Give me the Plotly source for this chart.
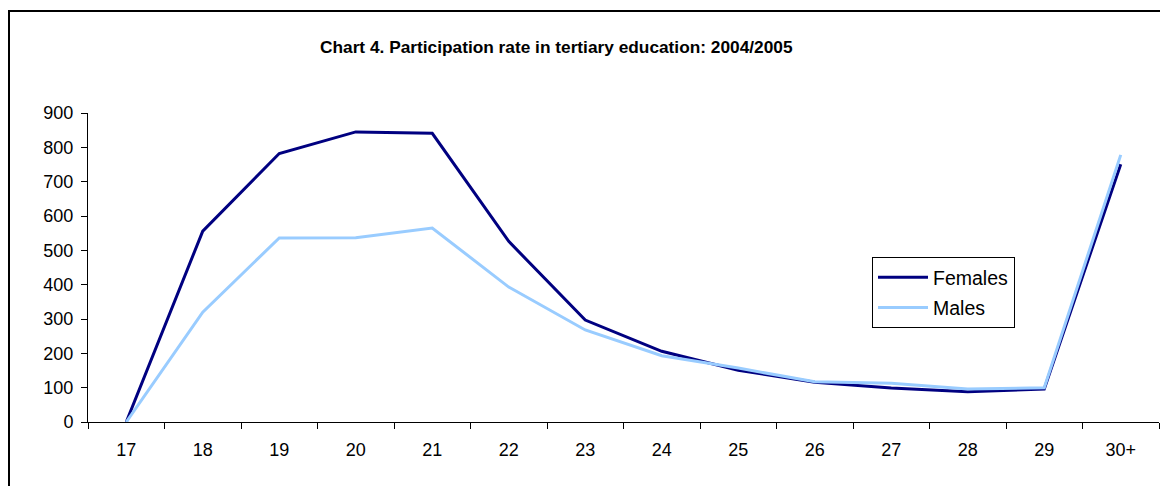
import plotly.graph_objects as go

ages = ["17", "18", "19", "20", "21", "22", "23", "24", "25", "26", "27", "28", "29", "30+"]
females = [0, 556, 782, 845, 841, 526, 297, 206, 151, 116, 99, 88, 96, 751]
males = [0, 320, 536, 537, 565, 393, 268, 193, 157, 117, 113, 96, 100, 778]

FONT = "Arial, 'Liberation Sans', sans-serif"

# page body has an 8px margin; work in screen pixels and shift
OFF = 8
W, H = 1168 - OFF, 486 - OFF
L, R, T, B = 88 - OFF, 1168 - 1159, 113 - OFF, 486 - 422
pw = W - L - R
ph = H - T - B

def px(x):
    return (x - OFF - L) / pw

def py(y):
    return (H - B - (y - OFF)) / ph

fig = go.Figure()
fig.add_trace(go.Scatter(x=ages, y=females, name="Females", mode="lines", legendgroup="f",
                         line=dict(color="#000080", width=3)))
fig.add_trace(go.Scatter(x=ages, y=males, name="Males", mode="lines", legendgroup="m",
                         line=dict(color="#99CCFF", width=3)))

fig.update_layout(
    width=W, height=H,
    margin=dict(l=L, r=R, t=T, b=B),
    paper_bgcolor="white", plot_bgcolor="white",
    font=dict(family=FONT, size=18, color="black"),
    showlegend=True,
    legend=dict(x=px(872), y=py(257), xanchor="left", yanchor="top",
                bordercolor="black", borderwidth=1, bgcolor="white",
                font=dict(size=19.5), tracegroupgap=2, itemwidth=50),
    xaxis=dict(type="category", range=[-0.5, 13.5], showgrid=False,
               showline=True, linecolor="black", linewidth=1,
               ticks="outside", tickson="boundaries", ticklen=6, tickcolor="black",
               ticklabelstandoff=11,
               tickfont=dict(size=18), zeroline=False, fixedrange=True),
    yaxis=dict(range=[0, 900], dtick=100, showgrid=False,
               showline=True, linecolor="black", linewidth=1,
               ticks="outside", ticklen=6, tickcolor="black",
               ticklabelstandoff=4,
               tickfont=dict(size=18), zeroline=False, fixedrange=True),
    annotations=[dict(text="<b>Chart 4. Participation rate in tertiary education: 2004/2005</b>",
                      xref="paper", yref="paper", x=px(556), y=py(47),
                      xanchor="center", yanchor="middle", showarrow=False,
                      font=dict(size=17.3, family=FONT, color="black"))],
    shapes=[dict(type="rect", xref="paper", yref="paper",
                 x0=px(9), x1=px(1200), y0=py(520), y1=py(11),
                 line=dict(color="black", width=2), fillcolor="rgba(0,0,0,0)", layer="above")],
)

fig.write_html("out.html")
